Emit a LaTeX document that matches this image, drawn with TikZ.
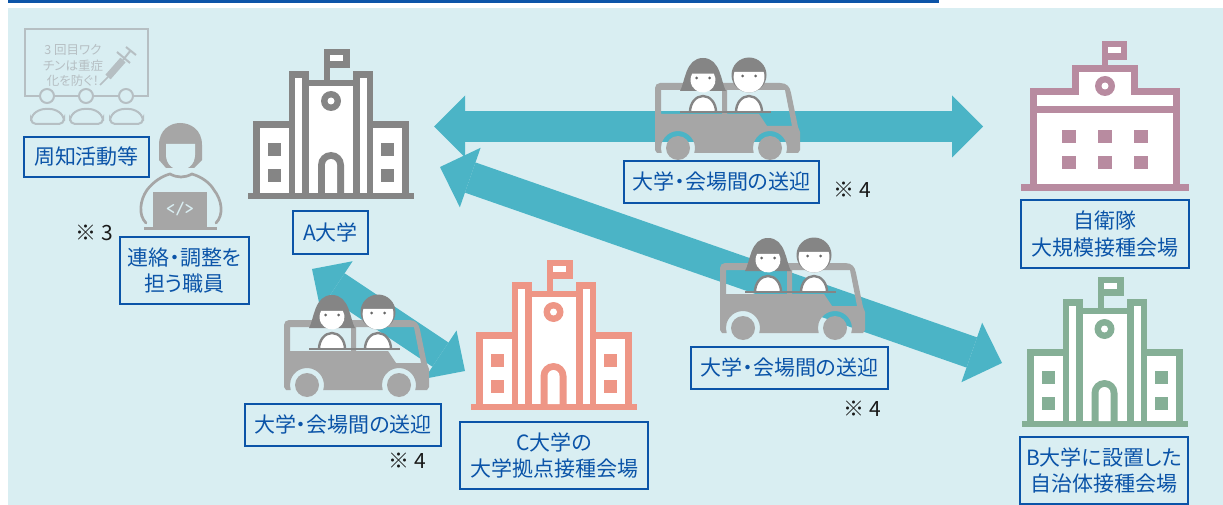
\documentclass[tikz,border=0pt]{standalone}
\usepackage{fontspec}
\newfontfamily\jp{Noto Sans CJK JP}[RawFeature={+palt}]
\usetikzlibrary{arrows.meta}
\definecolor{bgc}{HTML}{D9EEF2}
\definecolor{teal}{HTML}{4BB4C6}
\definecolor{navy}{HTML}{0B54A8}
\definecolor{gA}{HTML}{858585}
\definecolor{coral}{HTML}{EE9686}
\definecolor{mauve}{HTML}{B88BA0}
\definecolor{sage}{HTML}{85AF96}
\definecolor{carc}{HTML}{A6A6A6}
\definecolor{hair}{HTML}{858585}
\definecolor{faint}{HTML}{B6BFC3}
\tikzset{
  lbl/.style={draw=navy,line width=1.6pt,text=navy,inner sep=0pt,align=center,
    font=\fontsize{21}{26.5}\selectfont\jp},
  note/.style={text=black!90,inner sep=0pt,font=\fontsize{21}{24}\selectfont\jp},
  bigarrow/.style={draw=teal,line width=#1pt},
  pics/tallschool/.style={code={
    \fill[#1] (-83,-6) rectangle (83,0);
    \foreach \s in {-1,1}{
      \fill[#1] (\s*78,-78) rectangle (\s*42,-6);
      \fill[white] (\s*71,-71) rectangle (\s*42,-6);
      \fill[#1] (\s*42,-128) rectangle (\s*22,-6);
      \fill[white] (\s*36,-121) rectangle (\s*29,-6);
      \fill[#1] (\s*63,-56) rectangle (\s*50,-43);
      \fill[#1] (\s*63,-30) rectangle (\s*50,-17);
    }
    \fill[#1] (-22,-119) rectangle (22,-6);
    \fill[white] (-22,-113) rectangle (22,-6);
    \fill[#1] (-7,-150) rectangle (-1,-119);
    \fill[#1] (-7,-150) rectangle (19,-131);
    \fill[white] (-1,-144) rectangle (12,-138);
    \fill[#1] (0,-98) circle (10);
    \fill[white] (0,-98) circle (3.5);
    \fill[#1] (-13,-6) -- (-13,-34) arc (180:360:13) -- (13,-6) -- cycle;
    \fill[white] (-6,-6) -- (-6,-34) arc (180:360:6) -- (6,-6) -- cycle;
  }},
  pics/wideschool/.style={code={
    \fill[#1] (-84,-7) rectangle (84,0);
    \fill[#1] (-75,-103) rectangle (75,-7);
    \fill[#1] (-33,-126) rectangle (33,-103);
    \fill[white] (-68,-96) rectangle (68,-7);
    \fill[white] (-26,-119) rectangle (26,-96);
    \fill[#1] (-68,-85) rectangle (68,-78);
    \fill[#1] (-3,-150) rectangle (3,-126);
    \fill[#1] (-3,-150) rectangle (22,-131);
    \fill[white] (3,-144) rectangle (16,-138);
    \fill[#1] (0,-105) circle (10);
    \fill[white] (0,-105) circle (3.5);
    \foreach \x in {-36,0,36}{
      \fill[#1] (\x-7,-61) rectangle (\x+7,-48);
      \fill[#1] (\x-7,-35) rectangle (\x+7,-22);
    }
  }},
  pics/minibus/.style={code={
    \fill[carc,even odd rule]
      (2,-7) -- (0,-10) -- (0,-72) to[out=-90,in=180] (5,-77) -- (125,-77)
      .. controls (132,-77) and (135,-73) .. (136,-67)
      -- (143,-33) -- (145,-28) -- (145,-10) -- (143,-7) -- (131.2,-7)
      arc (17:-197:17) -- (39.2,-7) arc (17:-197:17) -- cycle
      (6,-70) rectangle (67,-46)
      (72,-70) -- (130,-70) -- (137,-34) -- (112,-34) -- (104,-46) -- (72,-46) -- cycle;
    \fill[carc] (23,-12) circle (12);
    \fill[carc] (115,-12) circle (12);
    \begin{scope}[shift={(48,-80)}]
      \fill[hair] (-23,11) .. controls (-18,3) and (-18,-22) .. (0,-22)
        .. controls (18,-22) and (18,3) .. (23,11) -- cycle;
      \fill[white] (-30:12.5) arc (-30:210:12.5) -- cycle;
      \fill[black!60] (-6.5,-2) circle (1.5) (6.5,-2) circle (1.5);
      \draw[hair,fill=white,line width=2.4pt] (-13,32) arc (180:360:13 and 16);
    \end{scope}
    \begin{scope}[shift={(94,-83)}]
      \fill[hair] (0,-2) circle (17.5);
      \fill[white] (-19.5:15.5) arc (-19.5:199.5:15.5) -- cycle;
      \fill[black!60] (-6.5,-1) circle (1.5) (6.5,-1) circle (1.5);
      \draw[hair,fill=white,line width=2.4pt] (-13,35) arc (180:360:13 and 16);
    \end{scope}
    \draw[hair,line width=1.8pt] (25,-48) -- (116,-48);
  }},
  pics/audience/.style={code={
    \draw[faint,line width=2pt] (-7,0) circle (7);
    \draw[faint,line width=2pt,rounded corners=5pt]
      (-23,28) -- (-23,20) -- (-14,13) -- (1,13) -- (10,20) -- (10,28) -- cycle;
  }}
}
\begin{document}
\begin{tikzpicture}[x=1pt,y=1pt,yscale=-1]
\useasboundingbox (0,0) rectangle (1223,505);
\fill[white] (0,0) rectangle (1223,505);
\fill[bgc] (8,8) rectangle (1223,505);
\fill[navy] (8,0) rectangle (939,2.6);

% arrows
\coordinate (tipAtop) at (434,126.5);
\coordinate (tipJ) at (983,126.5);
\coordinate (tipAmid) at (440,167);
\coordinate (tipB) at (1002,363);
\coordinate (tipAlow) at (312,269);
\coordinate (tipC) at (465,371);
\draw[bigarrow=31,{Triangle[length=31pt,width=62pt,line width=0pt]}-{Triangle[length=31pt,width=62pt,line width=0pt]}] (tipAtop) -- (tipJ);
\draw[bigarrow=32,{Triangle[length=32pt,width=63pt,line width=0pt]}-{Triangle[length=32pt,width=63pt,line width=0pt]}] (tipAmid) -- (tipB);
\draw[bigarrow=29,{Triangle[length=29.5pt,width=58pt,line width=0pt]}-{Triangle[length=29.5pt,width=58pt,line width=0pt]}] (tipAlow) -- (tipC);

% schools
\pic[transform shape] at (331,199) {tallschool=gA};
\pic[transform shape] at (553.5,410) {tallschool=coral};
\pic[transform shape] at (1104.5,427) {tallschool=sage};
\pic[transform shape] at (1105,191) {wideschool=mauve};

% minibuses
\pic[transform shape] at (655,160) {minibus};
\pic[transform shape] at (720,340) {minibus};
\pic[transform shape] at (284,397) {minibus};

% lecture icon
\draw[faint,line width=2pt] (40,96) -- (25,96) -- (25,29) -- (148,29) -- (148,96) -- (133,96);
\draw[faint,line width=2pt] (55,96) -- (79,96) (94,96) -- (118,96);
\pic[transform shape] at (54,96) {audience};
\pic[transform shape] at (93,96) {audience};
\pic[transform shape] at (133,96) {audience};
\node[text=faint,inner sep=0pt,align=center,font=\fontsize{12.5}{15.5}\selectfont\jp] (lectxt) at (73,65.5) {3 回目ワク\\チンは重症\\化を防ぐ！};
\draw[faint,line width=1.5pt] (100,85) -- (108,77);
\draw[faint,line width=7pt] (108,77) -- (123,60);
\draw[faint,line width=2pt] (123,60) -- (131,50) (117,52) -- (130,63) (126,47) -- (136,55);

% staff icon
\fill[carc] (159,160) -- (159,145) .. controls (159,130) and (170,123) .. (180,123)
  .. controls (191,123) and (202,130) .. (202,145) -- (202,160) -- (194,168) -- (166,168) -- cycle;
\fill[bgc] (166,144) -- (195,144) -- (195,155) .. controls (195,165) and (187,170) .. (180.5,170)
  .. controls (174,170) and (166,165) .. (166,155) -- cycle;
\draw[carc,line width=2.7pt,line cap=round] (146,223) .. controls (138,215) and (140,200) .. (147,190)
  .. controls (153,182) and (162,176) .. (170,174) .. controls (178,178) and (184,178) .. (192,174)
  .. controls (202,177) and (210,183) .. (214,190) .. controls (222,200) and (224,215) .. (216,223);
\fill[carc] (153,192) rectangle (207,227);
\fill[carc] (144,227) rectangle (217,230);
\node[text=bgc,inner sep=0pt,font=\fontsize{18}{18}\selectfont\ttfamily\bfseries] (code) at (180,209.5) {</>};

% labels
\node[lbl,minimum width=125pt,minimum height=40pt] (n1) at (86.5,157) {周知活動等};
\node[lbl,minimum width=75pt,minimum height=43pt] (n2) at (330.5,232.5) {A大学};
\node[lbl,minimum width=129pt,minimum height=67pt] (n3) at (184.5,270.5) {連絡・調整を\\担う職員};
\node[lbl,minimum width=195pt,minimum height=42pt] (n4) at (721.5,182) {大学・会場間の送迎};
\node[lbl,minimum width=197pt,minimum height=42pt] (n5) at (789.5,368) {大学・会場間の送迎};
\node[lbl,minimum width=196pt,minimum height=42pt] (n6) at (343,425) {大学・会場間の送迎};
\node[lbl,minimum width=188pt,minimum height=67pt] (n7) at (554,455.5) {C大学の\\大学拠点接種会場};
\node[lbl,minimum width=168pt,minimum height=68pt] (n8) at (1105,234) {自衛隊\\大規模接種会場};
\node[lbl,minimum width=168pt,minimum height=67pt] (n9) at (1104,470.5) {B大学に設置した\\自治体接種会場};

\node[note] (m1) at (94,233) {※ 3};
\node[note] (m2) at (852.5,190) {※ 4};
\node[note] (m3) at (862,409) {※ 4};
\node[note] (m4) at (407.5,461) {※ 4};
\end{tikzpicture}
\end{document}
